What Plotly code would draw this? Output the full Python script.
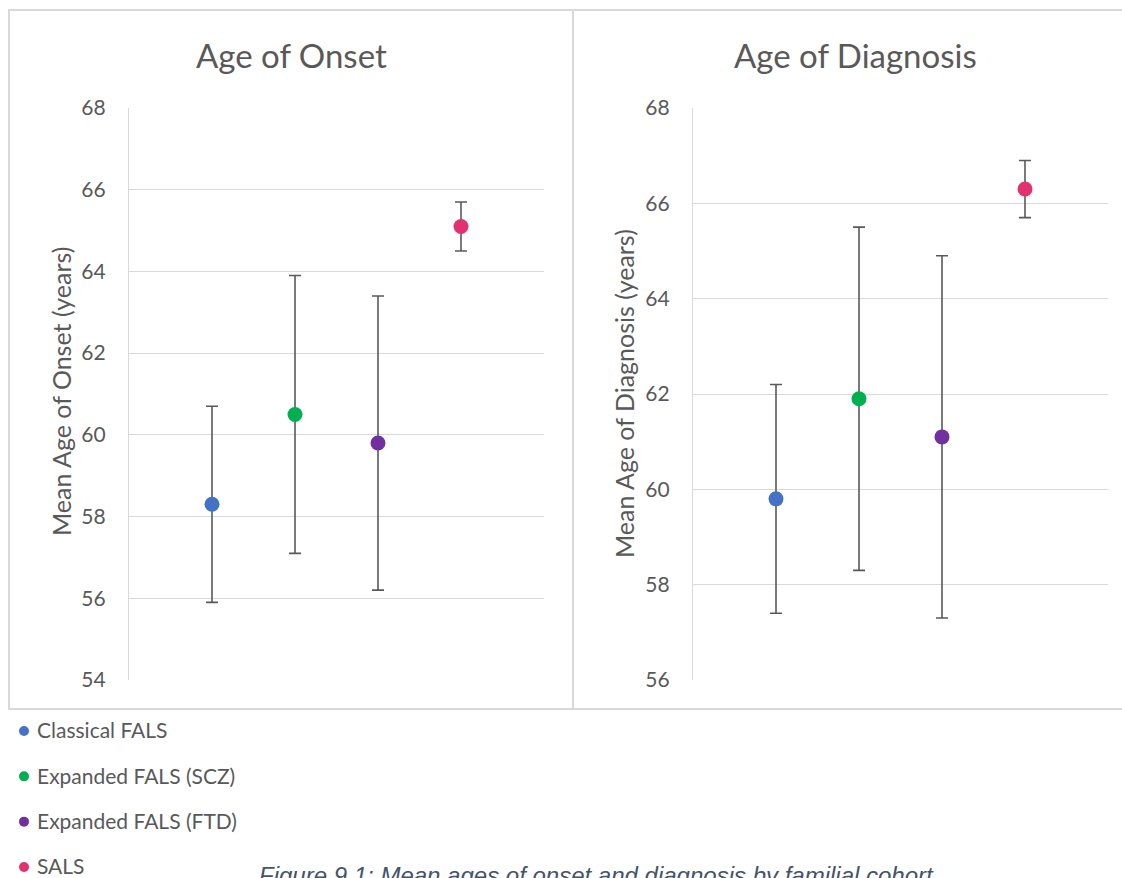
import plotly.graph_objects as go

# Cohorts and their colours
cohorts = ["Classical FALS", "Expanded FALS (SCZ)", "Expanded FALS (FTD)", "SALS"]
colors = ["#4472C4", "#00B050", "#7030A0", "#E3306E"]
positions = [1, 2, 3, 4]

# Mean age of onset (years) with error half-widths
onset_mean = [58.3, 60.5, 59.8, 65.1]
onset_err = [2.4, 3.4, 3.6, 0.6]

# Mean age of diagnosis (years) with error half-widths
diag_mean = [59.8, 61.9, 61.1, 66.3]
diag_err = [2.4, 3.6, 3.8, 0.6]

onset_ticks = [54, 56, 58, 60, 62, 64, 66, 68]
diag_ticks = [56, 58, 60, 62, 64, 66, 68]

W, H = 1122, 878
TEXT = "#595959"
GRID = "#D9D9D9"
FONT = "Lato, Calibri, sans-serif"


def px(x):
    return x / W


def py(y):
    return 1 - y / H


fig = go.Figure()

for i, name in enumerate(cohorts):
    for xa, ya, means, errs in (("x", "y", onset_mean, onset_err),
                                ("x2", "y2", diag_mean, diag_err)):
        fig.add_trace(go.Scatter(
            x=[positions[i]], y=[means[i]], mode="markers", name=name,
            marker=dict(color=colors[i], size=15),
            error_y=dict(type="data", array=[errs[i]], color=TEXT, thickness=1.6, width=6),
            showlegend=False, xaxis=xa, yaxis=ya))

# Key below the panels: one dot per cohort, labelled by the axis ticks
fig.add_trace(go.Scatter(
    x=[0] * len(cohorts), y=cohorts, mode="markers",
    marker=dict(color=colors, size=10),
    showlegend=False, hoverinfo="skip", xaxis="x3", yaxis="y3"))

ydom = [py(680), py(108)]
xaxis_common = dict(range=[0, 5], showgrid=False, zeroline=False, showticklabels=False,
                    showline=False, fixedrange=True, automargin=False)
yaxis_common = dict(dtick=2, showgrid=True, gridcolor=GRID, gridwidth=1.4, zeroline=False,
                    showline=True, linecolor=GRID, linewidth=1.4, automargin=False,
                    tickfont=dict(family=FONT, size=21, color=TEXT),
                    ticks="outside", ticklen=18, tickcolor="rgba(0,0,0,0)")

fig.update_layout(
    width=W, height=H,
    margin=dict(l=0, r=0, t=0, b=0, autoexpand=False),
    paper_bgcolor="white", plot_bgcolor="white",
    showlegend=False,
    xaxis=dict(domain=[px(129), px(544)], **xaxis_common),
    yaxis=dict(domain=ydom, range=[54, 68], tickvals=onset_ticks, **yaxis_common),
    xaxis2=dict(domain=[px(693), px(1108)], anchor="y2", **xaxis_common),
    yaxis2=dict(domain=ydom, range=[56, 68], tickvals=diag_ticks, anchor="x2", **yaxis_common),
    xaxis3=dict(domain=[px(14), px(34)], range=[-1, 1], anchor="y3", visible=False,
                automargin=False),
    yaxis3=dict(domain=[py(878), py(720)], type="category", categoryorder="array",
                categoryarray=cohorts, range=[3.243, -0.243], anchor="x3", side="right",
                showgrid=False, zeroline=False, showline=False, ticks="",
                ticklabelstandoff=2, automargin=False,
                tickfont=dict(family=FONT, size=21, color=TEXT)),
)

# Panel frames
fig.add_shape(type="rect", xref="paper", yref="paper",
              x0=px(9), x1=px(573), y0=py(709), y1=py(10),
              line=dict(color=GRID, width=2))
fig.add_shape(type="rect", xref="paper", yref="paper",
              x0=px(573), x1=px(1130), y0=py(709), y1=py(10),
              line=dict(color=GRID, width=2))

# Panel titles and axis titles
title_font = dict(family=FONT, size=33, color=TEXT)
axis_title_font = dict(family=FONT, size=25, color=TEXT)
fig.add_annotation(text="Age of Onset", x=px(291), y=py(55), xref="paper", yref="paper",
                   xanchor="center", yanchor="middle", showarrow=False, font=title_font)
fig.add_annotation(text="Age of Diagnosis", x=px(855), y=py(55), xref="paper", yref="paper",
                   xanchor="center", yanchor="middle", showarrow=False, font=title_font)
fig.add_annotation(text="Mean Age of Onset (years)", x=px(61), y=py(392), xref="paper",
                   yref="paper", xanchor="center", yanchor="middle", showarrow=False,
                   textangle=-90, font=axis_title_font)
fig.add_annotation(text="Mean Age of Diagnosis (years)", x=px(624), y=py(394), xref="paper",
                   yref="paper", xanchor="center", yanchor="middle", showarrow=False,
                   textangle=-90, font=axis_title_font)

# Figure caption, running off the lower edge of the page
fig.add_annotation(text="<i>Figure 9.1: Mean ages of onset and diagnosis by familial cohort</i>",
                   x=px(257), y=py(860), xref="paper", yref="paper", xanchor="left",
                   yanchor="top", showarrow=False,
                   font=dict(family="Liberation Sans, Arial, sans-serif", size=24,
                             color="#44546A"))

fig.write_html("out.html")
